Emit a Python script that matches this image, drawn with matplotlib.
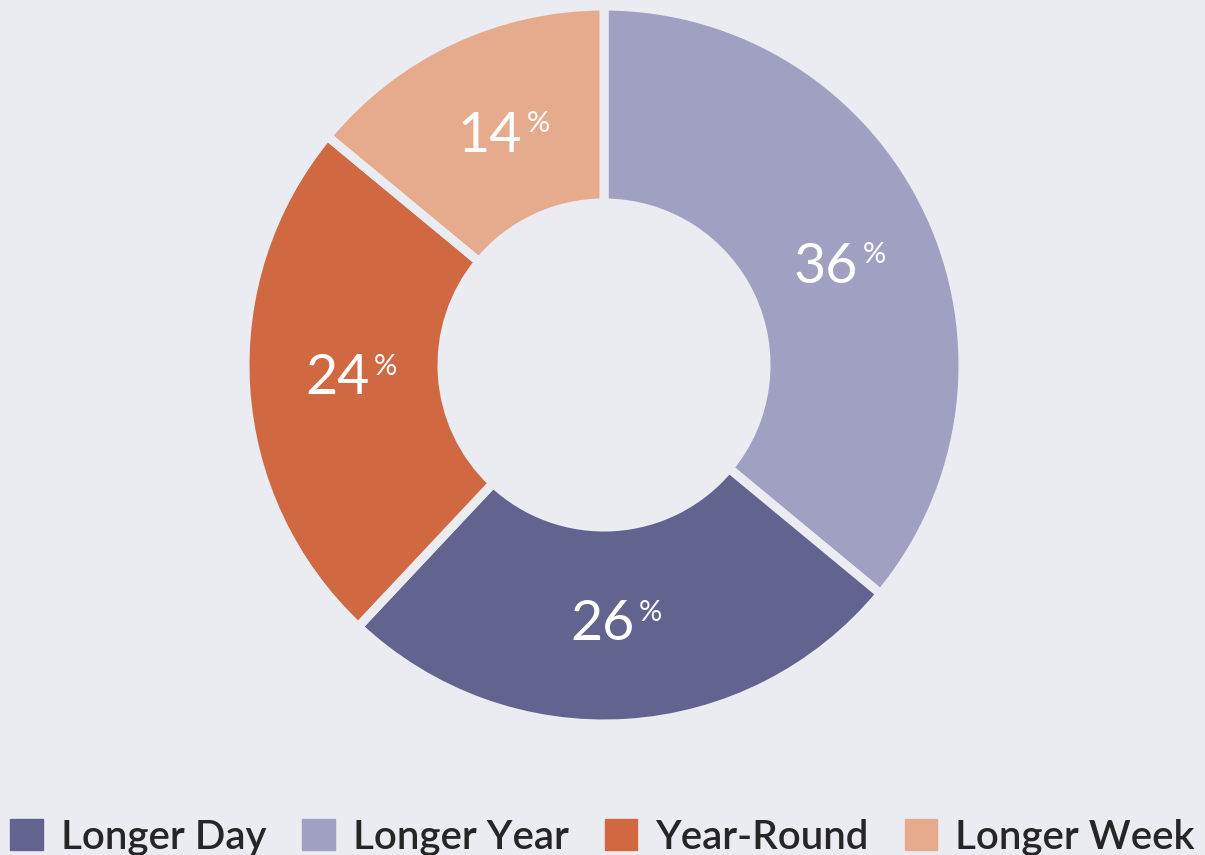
import numpy as np
import matplotlib
matplotlib.use("Agg")
import matplotlib.pyplot as plt
from matplotlib.patches import Patch

# datos en el orden de la leyenda
categories = ["Longer Day", "Longer Year", "Year-Round", "Longer Week"]
values = [26, 36, 24, 14]
colors = ["#63638F", "#A0A1C2", "#D06942", "#E6AB8D"]
# orden de los sectores, en sentido horario desde arriba
pie_order = ["Longer Year", "Longer Day", "Year-Round", "Longer Week"]

BG = "#EBEBF2"
plt.rcParams["font.family"] = ["Lato", "DejaVu Sans"]


def create_donut():
    fig = plt.figure(figsize=(12.05, 8.55), dpi=100, facecolor=BG)
    ax = fig.add_axes([0, 0, 1, 1])
    ax.set_facecolor(BG)

    idx = [categories.index(c) for c in pie_order]
    vals = [values[i] for i in idx]
    cols = [colors[i] for i in idx]
    center = (604, 490)
    radius = 359
    ax.pie(
        vals,
        colors=cols,
        startangle=90,
        counterclock=False,
        center=center,
        radius=radius,
        wedgeprops={"width": 197, "edgecolor": BG, "linewidth": 6.5},
        frame=True,
    )
    ax.set_xlim(0, 1205)
    ax.set_ylim(0, 855)
    ax.set_aspect("equal")
    ax.axis("off")

    # etiquetas de porcentaje
    total = sum(vals)
    start = 90.0
    for v in vals:
        ang = np.deg2rad(start - 360.0 * v / total / 2 - 1.5)
        start -= 360.0 * v / total
        x = center[0] + 255 * np.cos(ang)
        y = center[1] + 255 * np.sin(ang)
        ax.annotate(str(v), (x, y), xytext=(15, -14.5), textcoords="offset points",
                    ha="right", va="baseline", fontsize=40, color="white")
        ax.annotate("%", (x, y), xytext=(18, -0.5), textcoords="offset points",
                    ha="left", va="baseline", fontsize=21, color="white")

    handles = [Patch(facecolor=c, edgecolor=c) for c in colors]
    fig.legend(
        handles, categories, loc="lower center", ncol=4, frameon=False,
        bbox_to_anchor=(0.5, -0.043), handlelength=0.8,
        handleheight=0.8, handletextpad=0.45, columnspacing=0.9,
        labelcolor="#262626",
        prop={"family": ["Lato", "DejaVu Sans"], "size": 29, "weight": "semibold"},
    )
    fig.savefig("out.png", dpi=100, facecolor=BG)


if __name__ == "__main__":
    create_donut()
